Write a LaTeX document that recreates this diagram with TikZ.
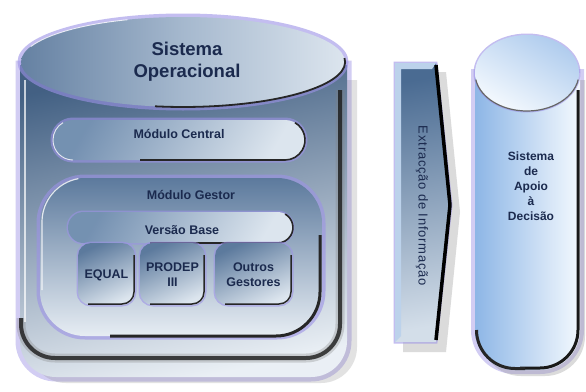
\documentclass[tikz,border=0pt]{standalone}
\usepackage{fontspec}
\setmainfont{Liberation Sans}
\definecolor{ink}{HTML}{1B2A4E}
\definecolor{glow}{HTML}{9C92E6}
\definecolor{steeldark}{HTML}{4A6B92}
\definecolor{steelmid}{HTML}{7F9AB9}
\definecolor{steellight}{HTML}{DCE5EE}
\definecolor{skyblue}{HTML}{8DB6E6}
\definecolor{skylight}{HTML}{F4F9FE}
\tikzset{
  halo/.style={draw=glow, line width=5pt, opacity=0.6},
  rim/.style={draw=black!85, line width=1.6pt},
  highlight/.style={draw=white, line width=0.9pt, opacity=0.8},
  label/.style={text=ink, font=\bfseries\fontsize{12.5}{15}\selectfont, align=center, inner sep=0pt},
  biglabel/.style={text=ink, font=\bfseries\fontsize{18.5}{22}\selectfont, align=center, inner sep=0pt},
  panel/.style={top color=steeldark, bottom color=steellight, shading angle=20},
  pill/.style={top color=steeldark!90, bottom color=steellight, shading angle=25},
}
\begin{document}
% y runs downwards: angle 90 points down the page
\begin{tikzpicture}[x=1pt,y=-1pt]
\useasboundingbox (0,0) rectangle (586,391);
\fill[white] (0,0) rectangle (586,391);

% ---------- operational system cylinder ----------
% glow and drop shadow
\path[halo, line width=9pt, opacity=0.45] (20,65) {[rounded corners=36] -- (20,377) -- (347,377)} -- (347,65) -- cycle;
\fill[black!45, opacity=0.25] (30,80) {[rounded corners=36] -- (30,383) -- (357,383)} -- (357,80) -- cycle;
% body
\path[top color=steeldark!90!black, middle color=steelmid!55!steellight, bottom color=steellight!60!white, shading angle=12] (20,65) {[rounded corners=36] -- (20,377) -- (347,377)} -- (347,65) -- cycle;
% bevel: dark inner band along the right side and the bottom
\draw[black!50, line width=9pt, opacity=0.3, rounded corners=34] (340,90) -- (340,358) -- (21,358) -- (21,318);
\draw[black!90, line width=4pt, opacity=0.8, rounded corners=34] (340,90) -- (340,358) -- (21,358) -- (21,318);
\draw[white, line width=2pt, opacity=0.7] (25,80) -- (25,322);
% top ellipse
\path[halo] (183,62) ellipse[x radius=163, y radius=46];
\shade[left color=steeldark!85, right color=steellight, middle color=steelmid!70!white] (183,62) ellipse[x radius=162, y radius=45];
\draw[black!85, line width=1.8pt] (155,106.3) arc[start angle=100, end angle=-5, x radius=162, y radius=45];
\draw[highlight] (30.8,46.6) arc[start angle=200, end angle=250, x radius=162, y radius=45];
\node[biglabel] (so) at (187,62) {Sistema\\Operacional};

% ---------- central module ----------
\path[halo, rounded corners=20] (53,120) rectangle (305,160);
\path[pill, top color=steelmid!80!steeldark, shading angle=60, rounded corners=20] (53,120) rectangle (305,160);
\draw[rim] (295,122.7) arc[start angle=-60, end angle=90, radius=20] -- (140,160);
\draw[highlight] (73,160) arc[start angle=90, end angle=240, radius=20];
\node[label] (mc) at (179,134) {Módulo Central};

% ---------- manager module ----------
\path[halo, line width=7pt, rounded corners=45] (40,178) rectangle (322,336);
\path[panel, top color=steeldark!90, middle color=steelmid!60!steellight, bottom color=steellight!70!white, rounded corners=45] (40,178) rectangle (322,336);
\draw[rim, line width=3pt] (320,235) -- (320,292) arc[start angle=0, end angle=90, radius=44] -- (110,336);
\draw[highlight, line width=1.2pt] (42,290) -- (42,222) arc[start angle=180, end angle=260, radius=44];
\node[label] (mg) at (191,195) {Módulo Gestor};

% base version
\path[halo, line width=3pt, rounded corners=15.5] (68,212) rectangle (293,243);
\path[pill, top color=steelmid!80!steeldark, shading angle=60, rounded corners=15.5] (68,212) rectangle (293,243);
\draw[rim, line width=1.6pt] (285.2,214.1) arc[start angle=-60, end angle=90, radius=15.5] -- (150,243);
\node[label] (vb) at (182,230) {Versão Base};

% three managers
\foreach \nm/\xa/\xb/\txt in {eq/78/135/EQUAL, pr/140/205/{PRODEP\\III}, og/215/292/{Outros\\Gestores}} {
  \path[halo, line width=3pt, rounded corners=13] (\xa,243) rectangle (\xb,305);
  \path[pill, rounded corners=13] (\xa,243) rectangle (\xb,305);
  \draw[rim, line width=1.5pt] (\xb-1,255) -- (\xb-1,292) arc[start angle=0, end angle=90, radius=12] -- (\xa+10,304);
  \node[label] (\nm) at ({(\xa+\xb)/2},275) {\txt};
}

% ---------- information extraction arrow ----------
\fill[black!40, opacity=0.35] (403,72) -- (446,72) -- (460,212) -- (446,352) -- (403,352) -- cycle;
\path[halo, line width=3pt] (395,63) -- (436,63) -- (451,205) -- (436,342) -- (395,342) -- cycle;
\path[top color=steeldark, bottom color=steellight!90!steelmid, shading angle=10] (395,63) -- (436,63) -- (451,205) -- (436,342) -- (395,342) -- cycle;
\fill[steellight!60!skyblue] (395,63) -- (436,63) -- (432,69) -- (401,69) -- (401,336) -- (395,342) -- cycle;
\draw[black, line width=3.5pt, line join=round] (436,65) -- (450,205) -- (436,340);
\node[text=ink, font=\fontsize{13}{15}\selectfont\addfontfeature{LetterSpace=6}, rotate=-90, inner sep=0pt] (ex) at (422,206) {Extracção de Informação};

% ---------- decision support cylinder ----------
\path[halo, line width=8pt, opacity=0.45] (475,73) {[rounded corners=40] -- (475,370) -- (580,370)} -- (580,73) -- cycle;
\fill[black!40, opacity=0.35] (481,80) {[rounded corners=40] -- (481,376) -- (585,376)} -- (585,80) -- cycle;
\path[left color=skyblue, right color=skylight] (475,73) {[rounded corners=40] -- (475,370) -- (580,370)} -- (580,73) -- cycle;
\draw[black!90, line width=3pt] (578,90) -- (578,330) arc[start angle=0, end angle=90, radius=38] -- (520,368);
\draw[black!85, line width=3pt] (476.5,330) arc[start angle=180, end angle=90, radius=38.5] -- (525,368.5);
\path[halo, line width=3pt] (527,73) ellipse[x radius=52, y radius=38];
\shade[top color=skyblue!70!white, bottom color=skylight, shading angle=-30] (527,73) ellipse[x radius=52, y radius=38];
\draw[black!60, line width=1.2pt] (578.2,79.6) arc[start angle=10, end angle=170, x radius=52, y radius=38];
\node[label, font=\bfseries\fontsize{12}{15}\selectfont] (sad) at (531,186) {Sistema\\de\\Apoio\\à\\Decisão};
\end{tikzpicture}
\end{document}
